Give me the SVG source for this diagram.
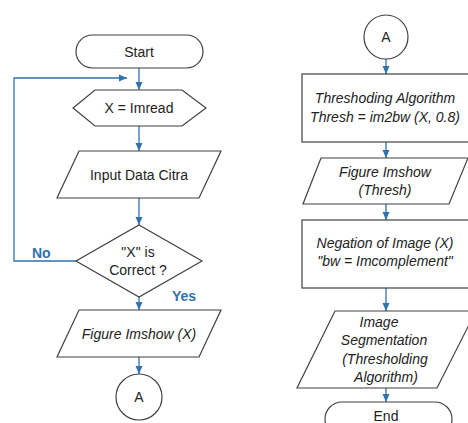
<svg xmlns="http://www.w3.org/2000/svg" width="468" height="423" viewBox="0 0 468 423">
<defs>
<marker id="arr" markerUnits="userSpaceOnUse" markerWidth="8" markerHeight="8" refX="8" refY="4" orient="auto">
<path d="M0,0.5 L8,4 L0,7.5 z" fill="#3072ad"/>
</marker>
<style>
.s{fill:#fff;stroke:#404040;stroke-width:1.2}
.t{font-family:"Liberation Sans",Arial,sans-serif;font-size:14px;fill:#222;text-anchor:middle}
.i{font-style:italic}
.c{fill:none;stroke:#3072ad;stroke-width:1.3;marker-end:url(#arr)}
.l{font-family:"Liberation Sans",Arial,sans-serif;font-size:14px;font-weight:bold;fill:#3072ad}
</style>
</defs>
<rect width="468" height="423" fill="#fff"/>
<g id="connectors">
<line class="c" x1="139" y1="68" x2="139" y2="90"/>
<line class="c" x1="139" y1="126" x2="139" y2="151"/>
<line class="c" x1="139" y1="198" x2="139" y2="225"/>
<polyline class="c" points="76,261 14,261 14,78 127,78"/>
<line class="c" x1="139" y1="297" x2="139" y2="310"/>
<line class="c" x1="139" y1="357" x2="139" y2="374"/>
<line class="c" x1="386" y1="59" x2="386" y2="74"/>
<line class="c" x1="386" y1="142" x2="386" y2="158"/>
<line class="c" x1="386" y1="204" x2="386" y2="220"/>
<line class="c" x1="386" y1="288" x2="386" y2="311"/>
<line class="c" x1="386" y1="388" x2="386" y2="402"/>
<text class="l" x="32" y="258">No</text>
<text class="l" x="172" y="301">Yes</text>
</g>
<g id="start">
<rect class="s" x="76" y="35" width="127" height="33" rx="16.5"/>
<text class="t" x="139" y="57">Start</text>
</g>
<g id="imread">
<polygon class="s" points="73,108 95,90 182,90 206,108 182,126 95,126"/>
<text class="t" x="139" y="113">X = Imread</text>
</g>
<g id="input">
<polygon class="s" points="79,151 221,151 199,198 57,198"/>
<text class="t" x="139" y="180">Input Data Citra</text>
</g>
<g id="decision">
<polygon class="s" points="139,225 202,261 139,297 76,261"/>
<text class="t" x="138" y="257">"X" is</text>
<text class="t" x="138" y="275">Correct ?</text>
</g>
<g id="show1">
<polygon class="s" points="79,310 221,310 199,357 57,357"/>
<text class="t i" x="139" y="339">Figure Imshow (X)</text>
</g>
<g id="connA1">
<circle class="s" cx="139" cy="397" r="23"/>
<text class="t" x="139" y="402">A</text>
</g>
<g id="connA2">
<circle class="s" cx="386" cy="37" r="22"/>
<text class="t" x="386" y="42">A</text>
</g>
<g id="thresh">
<rect class="s" x="302" y="74" width="175" height="68"/>
<text class="t i" x="385" y="103">Threshoding Algorithm</text>
<text class="t i" x="385" y="122">Thresh = im2bw (X, 0.8)</text>
</g>
<g id="show2">
<polygon class="s" points="321,158 468,158 449,204 303,204"/>
<text class="t i" x="385" y="177">Figure Imshow</text>
<text class="t i" x="385" y="195">(Thresh)</text>
</g>
<g id="negation">
<rect class="s" x="302" y="220" width="175" height="68"/>
<text class="t i" x="385" y="248">Negation of Image (X)</text>
<text class="t i" x="385" y="266">"bw = Imcomplement"</text>
</g>
<g id="segment">
<polygon class="s" points="335,311 476,311 437,388 297,388"/>
<text class="t i" x="379" y="327">Image</text>
<text class="t i" x="384" y="345">Segmentation</text>
<text class="t i" x="385" y="364">(Thresholding</text>
<text class="t i" x="386" y="382">Algorithm)</text>
</g>
<g id="end">
<rect class="s" x="325" y="402" width="127" height="34" rx="17"/>
<text class="t" x="386" y="421">End</text>
</g>
</svg>
